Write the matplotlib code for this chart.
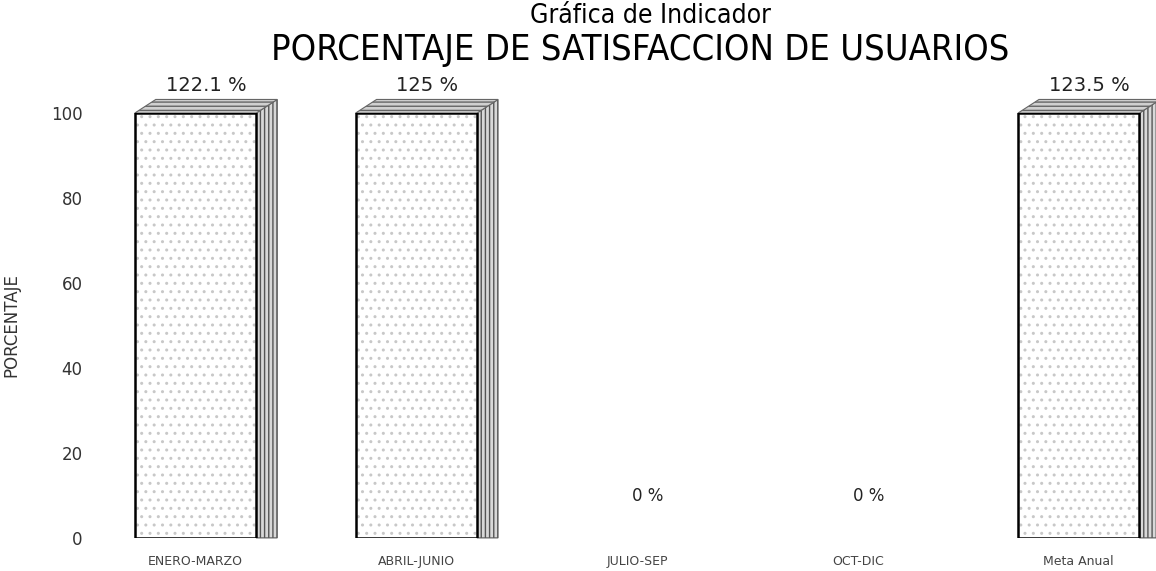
import numpy as np
import matplotlib
matplotlib.use("Agg")
import matplotlib.pyplot as plt
from matplotlib.patches import Polygon

# datos del indicador
periodos = ["ENERO-MARZO", "ABRIL-JUNIO", "JULIO-SEP", "OCT-DIC", "Meta Anual"]
valores = [122.1, 125, 0, 0, 123.5]
etiquetas = ["122.1 %", "125 %", "0 %", "0 %", "123.5 %"]

fig = plt.figure(figsize=(11.56, 5.71), dpi=100)
ax = fig.add_axes([0.087, 0.058, 0.913, 0.744])

x = np.arange(len(periodos))
ancho = 0.55
tope = 100
dx, dy = 0.095, 3.2   # profundidad del efecto 3D

for xi, v in zip(x, valores):
    h = min(v, tope)
    if h <= 0:
        continue
    izq, der = xi - ancho / 2, xi + ancho / 2
    # cara lateral
    ax.add_patch(Polygon([(der, 0), (der + dx, 0), (der + dx, h + dy), (der, h)],
                         closed=True, facecolor="#d8d8d8", edgecolor="#555555",
                         hatch="||||", linewidth=0.8, clip_on=False, zorder=1))
    # cara superior
    ax.add_patch(Polygon([(izq, h), (izq + dx, h + dy), (der + dx, h + dy), (der, h)],
                         closed=True, facecolor="#d0d0d0", edgecolor="#666666",
                         hatch="----", linewidth=0.8, clip_on=False, zorder=1))
    # cara frontal
    ax.bar(xi, h, ancho, color="white", edgecolor="#c8c8c8", hatch="..",
           linewidth=0, zorder=2)
    ax.bar(xi, h, ancho, color="none", edgecolor="black", linewidth=1.8, zorder=3)

for xi, v, txt in zip(x, valores, etiquetas):
    h = min(v, tope)
    ax.annotate(txt, (xi + dx / 2, h + (dy if h > 0 else 0)),
                xytext=(0, 3 if h > 0 else 24), textcoords="offset points",
                ha="center", va="bottom", fontsize=14 if h > 0 else 12,
                family="DejaVu Sans", color="#222222", annotation_clip=False)

ax.set_xlim(-0.43, 4.35)
ax.set_ylim(0, 100)
ax.set_yticks([0, 20, 40, 60, 80, 100])
ax.set_xticks(x)
ax.set_xticklabels(periodos, fontsize=9, color="#444444")
ax.tick_params(axis="y", labelsize=12, length=0, pad=13, labelcolor="#333333")
ax.tick_params(axis="x", length=0, pad=12)
for s in ax.spines.values():
    s.set_visible(False)
ax.set_ylabel("PORCENTAJE", fontsize=12, color="#333333", labelpad=22)

fig.text(0.563, 0.995, "Gráfica de Indicador", ha="center", va="top",
         fontsize=19, family="DejaVu Sans", fontstretch="condensed")
fig.text(0.554, 0.942, "PORCENTAJE DE SATISFACCION DE USUARIOS", ha="center", va="top",
         fontsize=26, family="DejaVu Sans", fontstretch="condensed")

fig.savefig("out.png", dpi=100)
